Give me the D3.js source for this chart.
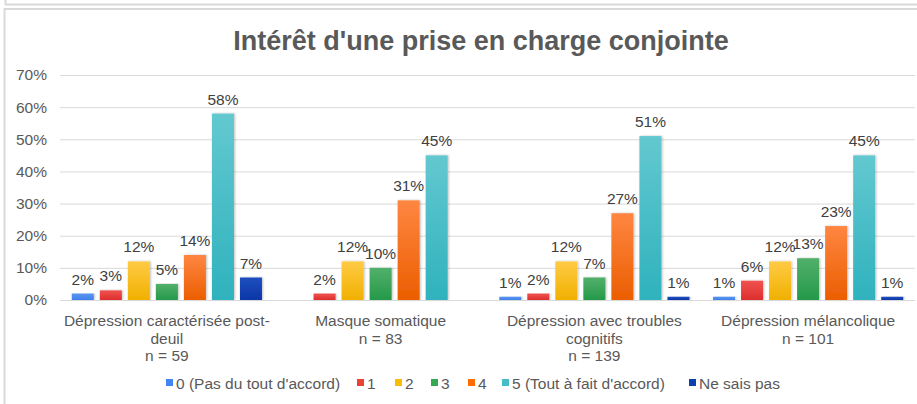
<!DOCTYPE html>
<html>
<head>
<meta charset="utf-8">
<script src="https://cdn.jsdelivr.net/npm/d3@7"></script>
<style>
  body { margin: 0; background: #fff; }
  svg { display: block; font-family: "Liberation Sans", Arial, sans-serif; }
</style>
</head>
<body>
<svg id="chart" width="917" height="404"></svg>
<script>
// categories (each label already split the way Excel wraps it)
var categories = ['g1', 'g2', 'g3', 'g4']
var categoryLines = [
  ['Dépression caractérisée post-', 'deuil', 'n = 59'],
  ['Masque somatique', 'n = 83'],
  ['Dépression avec troubles', 'cognitifs', 'n = 139'],
  ['Dépression mélancolique', 'n = 101']
]
var seriesNames = ["0 (Pas du tout d'accord)", '1', '2', '3', '4', "5 (Tout à fait d'accord)", 'Ne sais pas']
// values in %, one array per series (order of categories)
var s0 = [2, 0, 1, 1]
var s1 = [3, 2, 2, 6]
var s2 = [12, 12, 12, 12]
var s3 = [5, 10, 7, 13]
var s4 = [14, 31, 27, 23]
var s5 = [58, 45, 51, 45]
var sNsp = [7, 0, 1, 1]
var yTicks = [0, 10, 20, 30, 40, 50, 60, 70]

var seriesValues = [s0, s1, s2, s3, s4, s5, sNsp]
var colorsTop = ['#5a96f2', '#f05350', '#ffcb45', '#52b06a', '#ff8642', '#63c8d0', '#1f4fbf']
var colorsBottom = ['#3f80ea', '#dd2e2c', '#f0b000', '#25994a', '#eb5e00', '#2fb2bd', '#0b36a8']
var colors = ['#4285f4', '#ea4335', '#fbbc04', '#34a853', '#ff6d01', '#46bdc6', '#0d3fb0']

var svg = d3.select('#chart')

// screenshot frame
svg.append('line').attr('x1', 5).attr('x2', 917).attr('y1', 4.5).attr('y2', 4.5)
  .attr('stroke', '#d9d9d9').attr('stroke-width', 2)
svg.append('line').attr('x1', 5.5).attr('x2', 5.5).attr('y1', 0).attr('y2', 5)
  .attr('stroke', '#d9d9d9').attr('stroke-width', 2)
svg.append('path').attr('d', 'M917,9 H4.5 V404')
  .attr('fill', 'none').attr('stroke', '#d9d9d9').attr('stroke-width', 2)

var defs = svg.append('defs')
seriesNames.forEach(function (n, i) {
  var g = defs.append('linearGradient').attr('id', 'grad' + i)
    .attr('x1', 0).attr('y1', 0).attr('x2', 0).attr('y2', 1)
  g.append('stop').attr('offset', '0%').attr('stop-color', colorsTop[i])
  g.append('stop').attr('offset', '100%').attr('stop-color', colorsBottom[i])
})
var f = defs.append('filter').attr('id', 'shadow').attr('x', '-20%').attr('y', '-5%').attr('width', '150%').attr('height', '115%')
f.append('feDropShadow').attr('dx', 1).attr('dy', 0).attr('stdDeviation', 0.8)
  .attr('flood-color', '#000').attr('flood-opacity', 0.25)

// title
svg.append('text')
  .attr('x', 481).attr('y', 50)
  .attr('text-anchor', 'middle')
  .attr('font-size', 27).attr('font-weight', 'bold')
  .attr('fill', '#595959')
  .text("Intérêt d'une prise en charge conjointe")

var x0 = d3.scaleBand().domain(categories).range([60, 915]).padding(0)
var x1 = d3.scaleBand().domain(d3.range(seriesNames.length))
  .range([0, x0.bandwidth()]).paddingInner(0.214).paddingOuter(0.42)
var y = d3.scaleLinear().domain([0, 70]).range([300, 75])

// gridlines
svg.append('g').selectAll('line').data(yTicks.slice(1)).enter().append('line')
  .attr('x1', 60).attr('x2', 915)
  .attr('y1', function (d) { return y(d) + 0.5 }).attr('y2', function (d) { return y(d) + 0.5 })
  .attr('stroke', '#d9d9d9').attr('stroke-width', 1)

// y axis labels
var yAxis = d3.axisLeft(y).tickValues(yTicks).tickSize(0).tickPadding(0)
  .tickFormat(function (d) { return d + '%' })
var ya = svg.append('g').attr('transform', 'translate(47,0)').call(yAxis)
ya.select('.domain').remove()
ya.selectAll('text').attr('font-size', 15.5).attr('fill', '#595959')
  .attr('font-family', '"Liberation Sans", Arial, sans-serif')

// bars
var groups = svg.append('g').selectAll('g').data(categories).enter().append('g')
  .attr('transform', function (d) { return 'translate(' + x0(d) + ',0)' })

groups.each(function (cat, ci) {
  var g = d3.select(this)
  var vals = seriesValues.map(function (s, si) { return { si: si, v: s[ci] } })
  g.selectAll('rect').data(vals.filter(function (d) { return d.v > 0 })).enter().append('rect')
    .attr('x', function (d) { return x1(d.si) })
    .attr('width', x1.bandwidth())
    .attr('y', function (d) { return y(d.v) })
    .attr('height', function (d) { return y(0) - y(d.v) })
    .attr('fill', function (d) { return 'url(#grad' + d.si + ')' })
    .attr('filter', 'url(#shadow)')
  g.selectAll('text.lbl').data(vals.filter(function (d) { return d.v > 0 })).enter().append('text')
    .attr('class', 'lbl')
    .attr('x', function (d) { return x1(d.si) + x1.bandwidth() / 2 })
    .attr('y', function (d) { return y(d.v) - 9 })
    .attr('text-anchor', 'middle')
    .attr('font-size', 15.5).attr('fill', '#404040')
    .text(function (d) { return d.v + '%' })
})

// baseline
svg.append('line').attr('x1', 60).attr('x2', 915).attr('y1', 300.5).attr('y2', 300.5)
  .attr('stroke', '#d9d9d9').attr('stroke-width', 1)

// category labels
categories.forEach(function (c, i) {
  var t = svg.append('text')
    .attr('x', x0(c) + x0.bandwidth() / 2)
    .attr('y', 326)
    .attr('text-anchor', 'middle')
    .attr('font-size', 15.5).attr('fill', '#595959')
  categoryLines[i].forEach(function (line, li) {
    t.append('tspan').attr('x', x0(c) + x0.bandwidth() / 2)
      .attr('dy', li === 0 ? 0 : 17.5).text(line)
  })
})

// legend
var legendX = [166, 357, 395, 431, 468, 502, 689]
var leg = svg.append('g').selectAll('g').data(seriesNames).enter().append('g')
  .attr('transform', function (d, i) { return 'translate(' + legendX[i] + ',383)' })
leg.append('rect').attr('x', 0).attr('y', -4).attr('width', 7).attr('height', 7)
  .attr('fill', function (d, i) { return colors[i] })
leg.append('text').attr('x', 10).attr('y', 5.5)
  .attr('font-size', 15.5).attr('fill', '#595959')
  .text(function (d) { return d })
</script>
</body>
</html>
